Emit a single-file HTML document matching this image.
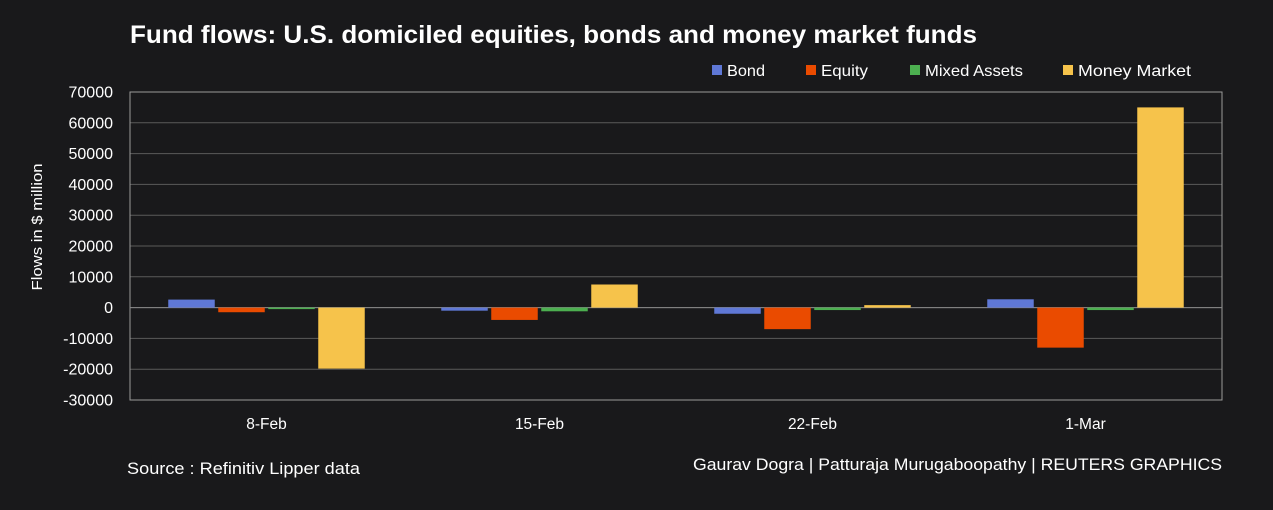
<!DOCTYPE html>
<html><head><meta charset="utf-8"><style>
body{margin:0;background:#19191b;}
svg{display:block;font-family:"Liberation Sans",sans-serif;}
</style></head><body>
<svg id="chart" width="1273" height="510" viewBox="0 0 1273 510">
<rect x="0" y="0" width="1273" height="510" fill="#19191b"/>
<text x="130" y="43" fill="#fff" font-size="25" font-weight="bold" textLength="847" lengthAdjust="spacingAndGlyphs">Fund flows: U.S. domiciled equities, bonds and money market funds</text>
<g id="legend"></g>
<g id="grid"></g>
<g id="bars"></g>
<g id="yticks"></g>
<g id="xticks"></g>
<text transform="translate(42,227) rotate(-90)" text-anchor="middle" fill="#fff" font-size="15" textLength="127" lengthAdjust="spacingAndGlyphs">Flows in $ million</text>
<text x="127" y="474" fill="#fff" font-size="17" textLength="233" lengthAdjust="spacingAndGlyphs">Source : Refinitiv Lipper data</text>
<text x="693" y="470" fill="#fff" font-size="17" textLength="529" lengthAdjust="spacingAndGlyphs">Gaurav Dogra | Patturaja Murugaboopathy | REUTERS GRAPHICS</text>
</svg>
<script>
const categories=["8-Feb","15-Feb","22-Feb","1-Mar"];
const seriesNames=["Bond","Equity","Mixed Assets","Money Market"];
const bond=[2600,-1000,-2000,2700];
const equity=[-1500,-4000,-7000,-13000];
const mixed=[-300,-1200,-800,-800];
const moneyMarket=[-19800,7500,800,65000];
const yTicks=[70000,60000,50000,40000,30000,20000,10000,0,-10000,-20000,-30000];
const colors=["#5f78d6","#ea4b00","#4caf50","#f6c34b"];
const NS="http://www.w3.org/2000/svg";
const L=130,R=1222,T=92,B=400,yMin=-30000,yMax=70000;
const y=v=>T+(yMax-v)/(yMax-yMin)*(B-T);
const gw=(R-L)/categories.length;
const xc=i=>L+gw*(i+0.5);
function mk(tag,attrs,parent){const e=document.createElementNS(NS,tag);for(const k in attrs)e.setAttribute(k,attrs[k]);parent.appendChild(e);return e;}
const grid=document.getElementById('grid');
yTicks.forEach(t=>{
  const l=mk('line',{x1:L,x2:R,y1:y(t),y2:y(t),stroke:"#5a5a5a","stroke-width":1},grid);
  
  
  const tx=mk('text',{x:L-17,y:y(t)+5.5,"text-anchor":"end",fill:"#fff","font-size":16},document.getElementById('yticks'));
  tx.textContent=t;
  
  
});
const frame=mk('rect',{x:L,y:T,width:R-L,height:B-T,fill:"none",stroke:"#9a9a9a","stroke-width":1},grid);


const zl=mk('line',{x1:L,x2:R,y1:y(0),y2:y(0),stroke:"#888","stroke-width":1},grid);


const series=[bond,equity,mixed,moneyMarket];
const pitch=50,bw=46.5;
const barsG=document.getElementById('bars');
categories.forEach((c,i)=>{
  series.forEach((s,j)=>{
    const v=s[i];
    const x0=xc(i)-2*pitch+j*pitch+(pitch-bw)/2;
    const y0=Math.min(y(v),y(0));
    const h=Math.max(Math.abs(y(v)-y(0)),1.5);
    const r=mk('rect',{x:x0,y:y0,width:bw,height:h,fill:colors[j]},barsG);
    
    
  });
  const t=mk('text',{x:xc(i),y:429,"text-anchor":"middle",fill:"#fff","font-size":15.5},document.getElementById('xticks'));
  t.textContent=c;
  
  
});
const lg=document.getElementById('legend');
const lx=[712,806,910,1063];
const lw=[38,47,98,113];
seriesNames.forEach((n,j)=>{
  const g=mk('g',{},lg);
  
  
  mk('rect',{x:lx[j],y:65,width:10,height:10,fill:colors[j]},g);
  const t=mk('text',{x:lx[j]+15,y:76,fill:"#fff","font-size":16,textLength:lw[j],lengthAdjust:"spacingAndGlyphs"},g);
  t.textContent=n;
});
</script>
</body></html>
